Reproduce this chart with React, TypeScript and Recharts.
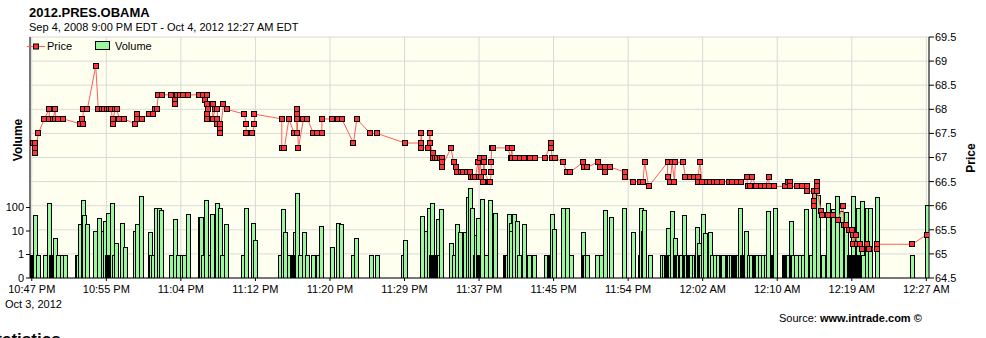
import React from "react";
import { ComposedChart, Bar, Line, XAxis, YAxis, CartesianGrid } from "recharts";

// minutes after 10:47 PM (Oct 3, 2012)
const priceTimes = [
  0.0, 0.1, 0.36, 0.36, 0.36, 0.73, 1.4, 1.96, 1.96, 2.37, 2.63, 2.63, 2.96, 3.52,
  5.39, 5.58, 5.69, 5.76, 6.21, 7.15, 7.44, 7.82, 8.08, 8.38, 8.67, 8.9, 9.05, 9.1,
  9.3, 9.5, 9.79, 10.31, 11.54, 11.8, 11.8, 12.29, 13.14, 13.52, 13.78, 13.97, 14.15,
  14.53, 15.57, 16.02, 16.02, 16.2, 16.58, 16.95, 17.5, 18.74, 19.18, 19.37, 19.56,
  19.62, 19.62, 19.62, 19.74, 20.23, 20.23, 20.49, 20.75, 20.75, 20.75, 21.05, 21.05,
  21.05, 21.42, 21.8, 23.77, 23.96, 23.96, 24.66, 24.89, 24.89, 27.95, 27.95, 28.24,
  28.74, 29.33, 29.63, 29.63, 29.63, 29.63, 29.81, 30.37, 30.82, 31.49, 31.87, 32.43,
  32.43, 33.61, 34.28, 34.66, 35.96, 36.34, 37.83, 38.58, 41.74, 43.53, 43.53, 43.53,
  44.28, 44.54, 44.54, 44.8, 44.9, 45.1, 45.3, 45.6, 45.85, 45.85, 45.85, 46.86, 47.15,
  47.45, 47.53, 48.0, 48.26, 48.64, 49.02, 49.1, 49.35, 49.6, 49.88, 50.0, 50.13, 50.25,
  50.4, 50.58, 50.58, 50.58, 51.07, 51.25, 51.35, 51.35, 51.4, 51.55, 53.19, 53.55,
  53.68, 53.72, 54.05, 54.53, 54.98, 55.65, 56.21, 57.4, 58.08, 58.08, 58.16, 58.45,
  59.38, 59.83, 60.2, 61.62, 61.69, 62.07, 63.26, 63.56, 64.04, 64.04, 64.68, 66.28,
  66.28, 67.17, 67.95, 68.33, 68.51, 68.96, 71.08, 71.08, 71.38, 71.58, 71.84, 71.95,
  72.81, 73.06, 73.54, 73.99, 74.44, 74.44, 74.67, 74.94, 75.5, 75.87, 76.24, 76.62,
  77.17, 77.9, 78.31, 78.79, 79.24, 79.9, 80.04, 80.26, 80.53, 80.92, 81.48, 81.96,
  82.41, 82.41, 82.97, 84.2, 84.5, 84.76, 84.76, 85.55, 86.12, 86.68, 86.68, 87.4, 87.4,
  87.4, 87.79, 87.79, 87.79, 88.24, 88.35, 88.98, 89.58, 90.1, 90.7, 90.77, 91.07, 91.33,
  91.71, 91.82, 91.85, 92.16, 92.27, 92.64, 92.83, 93.39, 93.57, 94.44, 94.44, 98.43,
  100.03,
];
const priceValues = [
  67.3, 67.3, 67.3, 67.2, 67.1, 67.5, 67.8, 68.0, 67.8, 67.8, 68.0, 67.8, 67.8, 67.8,
  67.7, 67.8, 67.7, 68.0, 68.0, 68.9, 68.0, 68.0, 68.0, 68.0, 68.0, 68.0, 67.7, 67.8,
  68.0, 68.0, 67.8, 67.8, 67.7, 67.9, 67.8, 67.8, 67.9, 67.9, 68.0, 68.0, 68.3,
  68.3, 68.3, 68.2, 68.1, 68.3, 68.3, 68.3, 68.3, 68.3, 68.3, 68.2, 68.3,
  68.1, 67.9, 67.8, 68.0, 68.1, 67.8, 68.0, 68.0, 67.8, 67.7, 67.7, 67.6,
  67.5, 68.1, 68.0, 67.9, 67.7, 67.5, 67.5, 67.7, 67.9, 67.8, 67.2, 67.2,
  67.8, 67.5, 67.5, 67.8, 67.9, 68.0, 67.2, 67.8, 67.8, 67.5, 67.5, 67.5,
  67.8, 67.8, 67.8, 67.8, 67.3, 67.8, 67.5, 67.5, 67.3, 67.3, 67.5, 67.2,
  67.2, 67.5, 67.3, 67.1, 67.0, 67.0, 67.0, 67.0, 67.0, 66.9, 66.8, 67.2, 66.9,
  66.8, 66.7, 66.7, 66.7, 66.7, 66.7, 66.6, 66.6, 66.6, 66.9, 66.6, 67.0, 66.6,
  66.5, 67.0, 66.9, 66.7, 66.5, 66.5, 66.7, 66.9, 67.2, 67.2, 67.2, 67.0,
  67.2, 67.0, 67.0, 67.0, 67.0, 67.0, 67.0, 67.0, 67.3, 67.2, 67.0, 67.0,
  66.9, 66.7, 66.7, 66.9, 66.8, 66.8, 66.9, 66.8, 66.8, 66.7, 66.8, 66.7,
  66.6, 66.5, 66.5, 66.5, 66.9, 66.4, 66.9, 66.6, 66.5, 66.9, 66.5, 66.9,
  66.9, 66.6, 66.6, 66.6, 66.6, 66.5, 66.9, 66.5, 66.5, 66.5, 66.5, 66.5,
  66.5, 66.5, 66.5, 66.5, 66.5, 66.6, 66.4, 66.4, 66.6, 66.4, 66.4, 66.4,
  66.6, 66.4, 66.4, 66.4, 66.5, 66.5, 66.4, 66.4, 66.4, 66.4, 66.3, 66.3, 66.1,
  66.0, 66.5, 66.4, 66.3, 65.9, 65.8, 65.8, 65.8, 65.7, 66.0, 65.6, 65.6, 65.5,
  65.5, 65.4, 65.2, 65.4, 65.2, 65.2, 65.1, 65.2, 65.1, 65.1, 65.2, 65.2,
  65.4,
];

const volumeTimes = [
  0.0, 0.1, 0.2, 0.41, 0.75, 1.44, 1.87, 1.98, 2.3, 2.45, 2.63, 2.93, 3.38, 3.71,
  5.2, 5.39, 5.69, 5.8, 6.2, 7.07, 7.48, 7.91, 8.24, 8.45, 8.52, 9.0, 9.2, 9.45, 10.09,
  10.39, 11.54, 11.77, 12.21, 13.17, 13.37, 13.56, 13.87, 14.23, 14.49, 15.6, 16.05,
  16.39, 16.77, 17.06, 17.45, 18.76, 18.93, 19.18, 19.52, 19.93, 20.16, 20.72, 21.09,
  21.28, 21.72, 23.66, 23.99, 24.71, 24.93, 27.71, 28.06, 28.29, 28.74, 29.1, 29.3,
  29.45, 29.55, 29.7, 29.97, 30.41, 30.82, 31.49, 31.87, 31.98, 32.38, 33.61, 34.28,
  34.59, 35.93, 36.26, 37.89, 38.56, 41.55, 41.74, 43.59, 44.04, 44.37, 44.77, 44.9,
  45.2, 45.36, 45.5, 45.8, 46.83, 47.15, 47.48, 47.84, 48.4, 48.73, 48.99, 49.2, 49.69,
  49.83, 49.95, 50.1, 50.32, 50.75, 51.28, 51.81, 53.04, 53.3, 53.52, 53.6, 53.91,
  54.27, 54.49, 54.97, 55.61, 56.17, 57.43, 57.96, 58.11, 58.41, 59.34, 59.87, 60.23,
  61.65, 61.82, 62.02, 63.22, 63.59, 64.06, 64.73, 66.24, 67.17, 68.03, 68.16, 68.36,
  68.48, 69.07, 70.49, 70.72, 71.08, 71.58, 71.95, 72.28, 72.88, 73.18, 73.51, 73.74,
  74.07, 74.4, 74.63, 75.0, 75.3, 75.78, 75.99, 76.39, 76.72, 77.05, 77.87, 78.21,
  78.43, 78.71, 79.2, 79.55, 79.89, 80.17, 80.39, 80.73, 81.06, 81.4, 81.73, 82.12,
  82.35, 83.08, 84.2, 84.42, 84.86, 85.47, 85.86, 86.2, 86.57, 87.1, 87.5, 87.91, 88.44,
  89.0, 89.56, 90.03, 90.49, 91.05, 91.4, 91.77, 92.31, 92.5, 92.78, 92.95, 93.34,
  93.65, 94.46, 98.38, 100.08,
];
const volumeValues = [
  1, 1, 1, 48, 1, 1, 50, 150, 1, 1, 5, 1, 1, 1,
  1, 20, 200, 48, 20, 10, 35, 10, 26, 1, 57, 150, 1, 3, 21,
  2, 10, 20, 310, 9, 1, 1, 95, 100, 77, 1, 32,
  1, 1, 1, 52, 38, 38, 1, 200, 1, 52, 150, 100,
  1, 20, 1, 100, 21, 4, 1, 90, 9, 1, 1, 1,
  9, 1, 400, 1, 9, 1, 1, 1, 1, 16, 2, 21,
  20, 1, 5, 1, 1, 1, 4, 44, 10, 100, 150, 1,
  1, 32, 1, 87, 3, 1, 19, 9, 9, 290, 660, 100, 7,
  35, 1, 1, 220, 1, 200, 61, 1, 51, 23, 10, 51,
  27, 1, 19, 1, 1, 1, 1, 51, 12, 100, 100, 1,
  9, 1, 1, 1, 1, 76, 41, 100, 9, 1, 100, 10,
  78, 1, 1, 1, 14, 74, 5, 1, 47, 1, 1, 1,
  1, 15, 3, 53, 8, 9, 1, 1, 1, 1, 1, 1,
  1, 1, 100, 1, 10, 1, 1, 1, 1, 1, 1, 1,
  74, 100, 1, 1, 28, 1, 1, 1, 83, 1, 470, 340, 1,
  160, 83, 310, 71, 66, 1, 310, 100, 1, 195, 1, 100,
  100, 270, 1, 127,
];

// extra one-lot trades packed so tightly that their outlines merge into solid black blocks
const singleLotTimes = [
  -0.15, -0.05, 0.05, 2.15, 2.2, 2.35, 2.4, 2.5, 5.1, 8.6, 8.7, 8.8, 29.2, 29.4,
  44.6, 44.7, 44.8, 45.0, 45.1, 45.3, 45.4, 49.5, 49.6, 50.0, 50.2, 52.95, 53.1,
  57.85, 58.05, 61.75, 61.9, 70.95, 71.05, 71.15, 71.25, 71.35, 72.05, 72.15, 72.5,
  72.6, 73.0, 73.1, 73.4, 73.55, 74.2, 74.3, 74.75, 74.85, 77.2, 77.3, 77.75, 77.95,
  78.35, 78.55, 78.65, 78.8, 78.9, 79.45, 79.65, 79.75, 80.9, 81.0, 82.8, 82.9, 83.0,
  84.1, 84.3, 84.5, 85.0, 85.1, 91.45, 91.55, 91.65, 91.9, 92.0, 92.1, 92.2, 92.4,
  92.6, 92.7,
];

const timeTicks = [0, 8.333, 16.667, 25, 33.333, 41.667, 50, 58.333, 66.667, 75, 83.333, 91.667, 100];
const timeTickLabels = [
  "10:47 PM", "10:55 PM", "11:04 PM", "11:12 PM", "11:20 PM", "11:29 PM", "11:37 PM",
  "11:45 PM", "11:54 PM", "12:02 AM", "12:10 AM", "12:19 AM", "12:27 AM",
];
const priceTicks = [64.5, 65, 65.5, 66, 66.5, 67, 67.5, 68, 68.5, 69, 69.5];
const volumeTicks = [0, 1, 2, 3];
const volumeTickLabels = ["0", "1", "10", "100"];

type Row = { t: number; price?: number; vol?: number };

// volume is drawn on a log scale: 0 at the bottom, then 1, 10, 100 one decade apart
const rows: Row[] = [
  ...priceTimes.map((t, i) => ({ t, price: priceValues[i] })),
  ...volumeTimes.map((t, i) => ({ t, vol: Math.log10(volumeValues[i]) + 1 })),
  ...singleLotTimes.map((t) => ({ t, vol: 1 })),
].sort((a, b) => a.t - b.t);

const FONT = "Arial, 'Liberation Sans', sans-serif";
const tickStyle = { fontSize: 11, fill: "#000", fontFamily: FONT };
const BAR_W = 4;

// the time axis is numeric, so recharts gives the bars almost no width; draw them 4px wide around their time
const VolumeBar = (props: any) => {
  const { x, y, width, height, payload } = props;
  if (payload == null || payload.vol == null || !height) return <g />;
  const cx = x + (width || 0) / 2;
  const left = Math.max(Math.round(cx - BAR_W / 2), 30);
  return (
    <rect
      x={left + 0.5}
      y={Math.round(y) + 0.5}
      width={BAR_W}
      height={Math.round(height)}
      fill="#9cf79c"
      stroke="#000"
      strokeWidth={1}
    />
  );
};

const PriceDot = (props: any) => {
  const { cx, cy, payload, index } = props;
  if (payload == null || payload.price == null || cx == null || cy == null) {
    return <g key={`d${index}`} />;
  }
  return (
    <rect
      key={`d${index}`}
      x={Math.round(cx) - 2.5}
      y={Math.round(cy) - 2.5}
      width={5}
      height={5}
      fill="#ff3333"
      stroke="#000"
      strokeWidth={1}
    />
  );
};

const abs = (s: React.CSSProperties): React.CSSProperties => ({
  position: "absolute",
  fontFamily: FONT,
  lineHeight: 1,
  whiteSpace: "nowrap",
  color: "#000",
  ...s,
});

export default function App() {
  return (
    <div style={{ position: "absolute", left: 0, top: 0, width: 986, height: 338, background: "#fff", overflow: "hidden" }}>
      <div style={abs({ left: 29, top: 5.5, fontSize: 13, fontWeight: "bold" })}>2012.PRES.OBAMA</div>
      <div style={abs({ left: 29, top: 22, fontSize: 11 })}>
        Sep 4, 2008 9:00 PM EDT - Oct 4, 2012 12:27 AM EDT
      </div>

      <ComposedChart
        width={986}
        height={338}
        data={rows}
        margin={{ top: 37, right: 0, bottom: 0, left: 0 }}
      >
        <CartesianGrid xAxisId="time" yAxisId="price" stroke="#d9d9d9" fill="#fffff0" />
        <XAxis
          xAxisId="time"
          dataKey="t"
          type="number"
          domain={[-0.2, 100.3]}
          allowDataOverflow
          ticks={timeTicks}
          interval={0}
          tickFormatter={(v: number) => timeTickLabels[timeTicks.indexOf(v)] ?? ""}
          height={60}
          tickSize={3}
          tickMargin={4}
          tick={tickStyle}
          axisLine={{ stroke: "#000" }}
          tickLine={{ stroke: "#000" }}
        />
        <XAxis
          xAxisId="top"
          orientation="top"
          dataKey="t"
          type="number"
          domain={[-0.2, 100.3]}
          allowDataOverflow
          height={0}
          tick={false}
          tickLine={false}
          axisLine={{ stroke: "#000" }}
        />
        <YAxis
          yAxisId="vol"
          orientation="left"
          width={30}
          domain={[0, 10.26]}
          allowDataOverflow
          ticks={volumeTicks}
          interval={0}
          tickFormatter={(v: number) => volumeTickLabels[v] ?? ""}
          tickSize={4}
          tickMargin={2}
          tick={tickStyle}
          axisLine={{ stroke: "#000" }}
          tickLine={{ stroke: "#000" }}
        />
        <YAxis
          yAxisId="price"
          orientation="right"
          width={57}
          domain={[64.5, 69.5]}
          allowDataOverflow
          ticks={priceTicks}
          interval={0}
          tickSize={5}
          tickMargin={1}
          tick={tickStyle}
          axisLine={{ stroke: "#000" }}
          tickLine={{ stroke: "#000" }}
        />
        <Bar
          xAxisId="time"
          yAxisId="vol"
          dataKey="vol"
          barSize={BAR_W}
          shape={VolumeBar}
          isAnimationActive={false}
        />
        <Line
          xAxisId="time"
          yAxisId="price"
          dataKey="price"
          type="linear"
          connectNulls
          stroke="#ff5c5c"
          strokeWidth={1}
          dot={PriceDot}
          activeDot={false}
          isAnimationActive={false}
        />
      </ComposedChart>

      {/* legend */}
      <svg style={{ position: "absolute", left: 25, top: 40 }} width={90} height={12}>
        <line x1={2} y1={6.5} x2={20} y2={6.5} stroke="#ff5c5c" strokeWidth={1} />
        <rect x={8.5} y={4} width={5} height={5} fill="#ff3333" stroke="#000" />
        <rect x={70.5} y={1.5} width={14} height={8} fill="#9cf79c" stroke="#000" />
      </svg>
      <div style={abs({ left: 47, top: 41, fontSize: 11 })}>Price</div>
      <div style={abs({ left: 115, top: 41, fontSize: 11 })}>Volume</div>

      <div
        style={abs({ left: 18, top: 140, fontSize: 12, fontWeight: "bold", transform: "translate(-50%, -50%) rotate(-90deg)" })}
      >
        Volume
      </div>
      <div
        style={abs({ left: 971, top: 158, fontSize: 12, fontWeight: "bold", transform: "translate(-50%, -50%) rotate(-90deg)" })}
      >
        Price
      </div>

      <div style={abs({ left: 5, top: 299, fontSize: 11 })}>Oct 3, 2012</div>
      <div style={abs({ left: 779, top: 312.5, fontSize: 11 })}>
        Source: <b>www.intrade.com ©</b>
      </div>
      <div style={abs({ left: -15, top: 331, fontSize: 17, fontWeight: "bold" })}>Statistics</div>
    </div>
  );
}
